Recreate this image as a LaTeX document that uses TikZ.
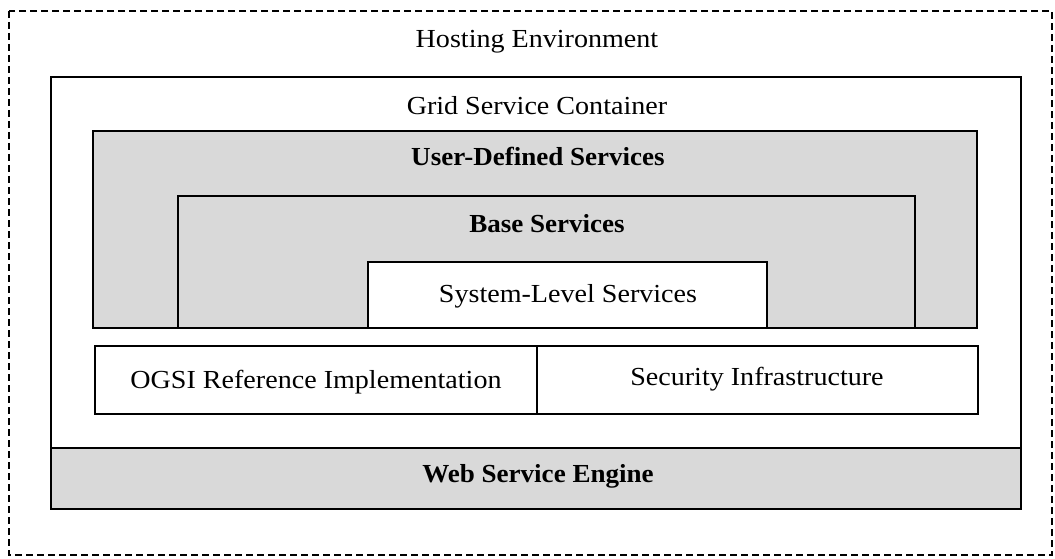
\documentclass[tikz,border=0pt]{standalone}
\usepackage{fontspec}
\setmainfont{Liberation Serif}[FakeStretch=1.08]
\newfontfamily\boldfam{Liberation Serif Bold}[FakeStretch=1.04]
\begin{document}
\begin{tikzpicture}[x=1pt,y=-1pt,
  frame/.style={draw=black,line width=1.8pt},
  shade/.style={fill=black!15},
  lbl/.style={font=\fontsize{26}{30}\selectfont,inner sep=0pt,anchor=base},
  blbl/.style={lbl,font=\fontsize{26}{30}\boldfam\selectfont}]
\useasboundingbox (0,0) rectangle (1055,559);
% hosting environment
\draw[line width=1.8pt,dash pattern=on 7pt off 4pt] (9,11) rectangle (1052,555);
\node[lbl] (he) at (537,48) {Hosting Environment};
% grid service container
\draw[frame] (51,77) rectangle (1021,448);
\node[lbl] (gsc) at (537,115) {Grid Service Container};
% user-defined services
\draw[frame,shade] (93,131) rectangle (977,328);
\node[blbl] (uds) at (538,166) {User-Defined Services};
% base services
\draw[frame,shade] (178,196) rectangle (915,328);
\node[blbl] (bs) at (547,232) {Base Services};
% system-level services
\draw[frame,fill=white] (368,262) rectangle (767,328);
\node[lbl] (sls) at (568,302) {System-Level Services};
% OGSI and security
\draw[frame] (95,346) rectangle (978,414);
\draw[frame] (537,346) -- (537,414);
\node[lbl] (ogsi) at (316,388) {OGSI Reference Implementation};
\node[lbl] (sec) at (757,385) {Security Infrastructure};
% web service engine
\draw[frame,shade] (51,448) rectangle (1021,509);
\node[blbl] (wse) at (538,482) {Web Service Engine};
\end{tikzpicture}
\end{document}
